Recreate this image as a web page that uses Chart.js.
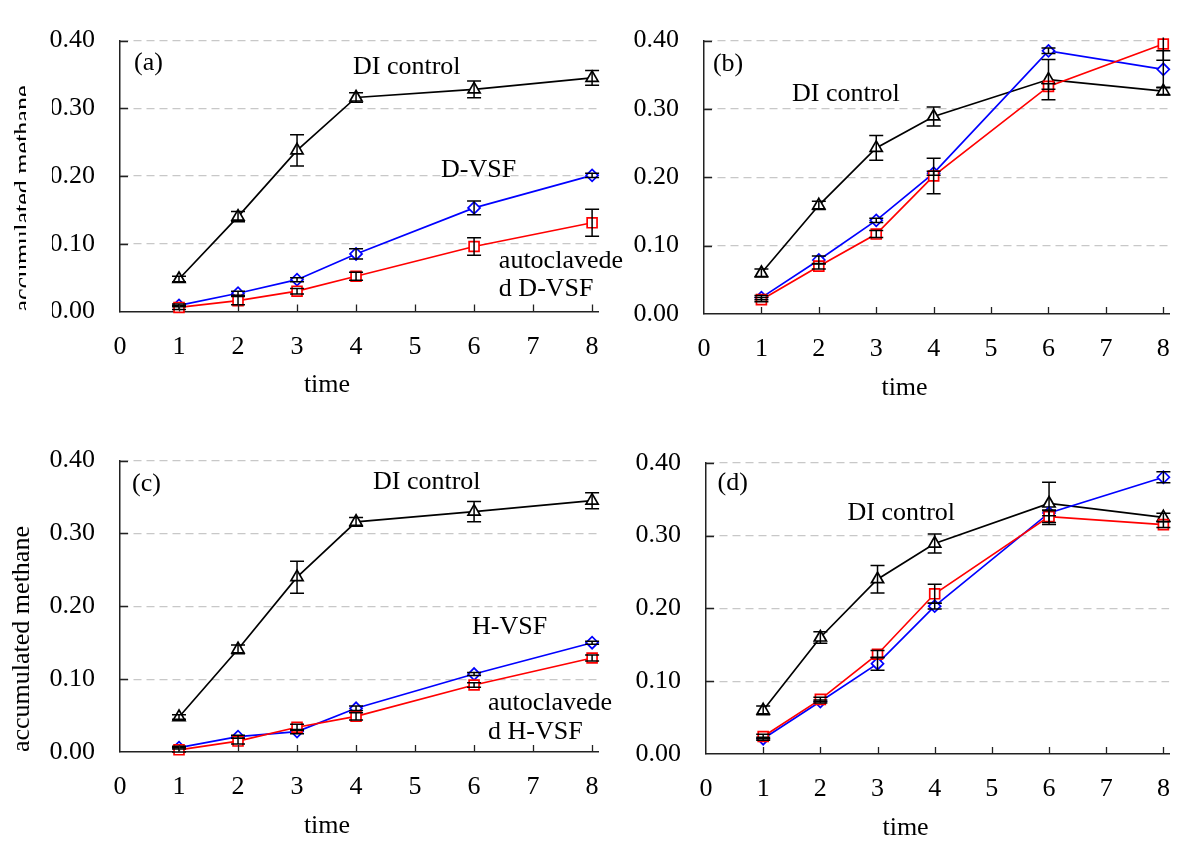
<!DOCTYPE html>
<html>
<head>
<meta charset="utf-8">
<script src="https://cdn.jsdelivr.net/npm/chart.js@4.4.1/dist/chart.umd.min.js"></script>
<style>
  html, body { margin: 0; padding: 0; background: #fff; }
  #wrap { position: relative; width: 1190px; height: 842px; overflow: hidden; background: #fff; }
  canvas { position: absolute; }
  #maskA { position: absolute; left: 26px; top: 80px; width: 26px; height: 245px; background: #fff; }
</style>
</head>
<body>
<div id="wrap">
  <canvas id="chartA" width="640" height="420" style="left:0;top:0"></canvas>
  <div id="maskA"></div>
  <canvas id="chartB" width="590" height="420" style="left:600px;top:0"></canvas>
  <canvas id="chartC" width="640" height="422" style="left:0;top:420px"></canvas>
  <canvas id="chartD" width="590" height="422" style="left:600px;top:420px"></canvas>
</div>
<script>
// sampling times and axis ticks
const times = [1, 2, 3, 4, 6, 8];
const xTicks = [0, 1, 2, 3, 4, 5, 6, 7, 8];
const yTicks = [0, 0.1, 0.2, 0.3, 0.4];

// (a) D-VSF
const aControl = [0.048, 0.140, 0.238, 0.316, 0.328, 0.345];
const aControlErr = [0.004, 0.0075, 0.023, 0.007, 0.0125, 0.011];
const aVSF = [0.009, 0.027, 0.047, 0.085, 0.153, 0.201];
const aVSFErr = [0.002, 0.003, 0.003, 0.0075, 0.010, 0.003];
const aAuto = [0.006, 0.016, 0.030, 0.052, 0.096, 0.131];
const aAutoErr = [0.003, 0.006, 0.004, 0.006, 0.013, 0.020];

// (b)
const bControl = [0.060, 0.159, 0.243, 0.289, 0.343, 0.326];
const bControlErr = [0.006, 0.006, 0.018, 0.014, 0.0295, 0.0056];
const bVSF = [0.024, 0.079, 0.137, 0.206, 0.385, 0.358];
const bVSFErr = [0.003, 0.006, 0.003, 0.003, 0.004, 0.027];
const bAuto = [0.021, 0.070, 0.117, 0.202, 0.333, 0.395];
const bAutoErr = [0.003, 0.004, 0.005, 0.026, 0.004, 0.0236];

// (c) H-VSF
const cControl = [0.048, 0.141, 0.240, 0.316, 0.330, 0.345];
const cControlErr = [0.003, 0.006, 0.022, 0.006, 0.014, 0.011];
const cVSF = [0.006, 0.021, 0.028, 0.060, 0.107, 0.150];
const cVSFErr = [0.002, 0.002, 0.003, 0.003, 0.002, 0.002];
const cAuto = [0.003, 0.015, 0.034, 0.049, 0.092, 0.129];
const cAutoErr = [0.003, 0.004, 0.004, 0.005, 0.003, 0.004];

// (d)
const dControl = [0.060, 0.160, 0.240, 0.289, 0.344, 0.325];
const dControlErr = [0.006, 0.008, 0.019, 0.013, 0.029, 0.0057];
const dVSF = [0.021, 0.072, 0.124, 0.203, 0.331, 0.380];
const dVSFErr = [0.002, 0.002, 0.009, 0.004, 0.004, 0.0075];
const dAuto = [0.024, 0.075, 0.137, 0.220, 0.326, 0.315];
const dAutoErr = [0.003, 0.003, 0.005, 0.013, 0.008, 0.004];

// text labels inside each panel: [text, x (time), y (value)] - left edge, vertical middle
const notesA = [['(a)', 0.237, 0.367], ['DI control', 3.948, 0.361], ['D-VSF', 5.44, 0.208],
                ['autoclavede', 6.42, 0.0744], ['d D-VSF', 6.42, 0.0327]];
const notesB = [['(b)', 0.155, 0.365], ['DI control', 1.534, 0.322]];
const notesC = [['(c)', 0.203, 0.368], ['DI control', 4.287, 0.3706], ['H-VSF', 5.965, 0.171],
                ['autoclavede', 6.236, 0.0669], ['d H-VSF', 6.236, 0.0268]];
const notesD = [['(d)', 0.203, 0.372], ['DI control', 2.474, 0.331]];

const serif = '"Liberation Serif", "Times New Roman", serif';
const axisColor = '#222';
Chart.defaults.font.family = serif;
Chart.defaults.color = '#000';

// error bars, inward tick marks, panel text
const extras = {
  id: 'extras',
  afterDatasetsDraw(chart) {
    const { ctx, chartArea, scales: { y } } = chart;
    ctx.save();
    ctx.beginPath();
    ctx.rect(chartArea.left - 20, chartArea.top - 3, chartArea.width + 40, chartArea.height + 6);
    ctx.clip();
    ctx.strokeStyle = '#000';
    ctx.lineWidth = 1.5;
    chart.data.datasets.forEach((ds, i) => {
      const meta = chart.getDatasetMeta(i);
      meta.data.forEach((pt, j) => {
        const v = ds.data[j].y, e = ds.errors[j];
        const y1 = y.getPixelForValue(v + e), y2 = y.getPixelForValue(v - e);
        ctx.beginPath();
        ctx.moveTo(pt.x, y1); ctx.lineTo(pt.x, y2);
        ctx.moveTo(pt.x - 7, y1); ctx.lineTo(pt.x + 7, y1);
        ctx.moveTo(pt.x - 7, y2); ctx.lineTo(pt.x + 7, y2);
        ctx.stroke();
      });
    });
    ctx.restore();
  },
  afterDraw(chart) {
    const { ctx, chartArea, scales: { x, y } } = chart;
    const notes = chart.options.plugins.extras.notes;
    ctx.save();
    ctx.strokeStyle = axisColor;
    ctx.lineWidth = 1.3;
    ctx.beginPath();
    xTicks.forEach(v => {
      if (v === 0) return;
      const px = Math.round(x.getPixelForValue(v)) + 0.5;
      ctx.moveTo(px, chartArea.bottom);
      ctx.lineTo(px, chartArea.bottom - 7);
    });
    yTicks.forEach(v => {
      if (v === 0) return;
      const py = Math.round(y.getPixelForValue(v)) + 0.5;
      ctx.moveTo(chartArea.left, py);
      ctx.lineTo(chartArea.left + 8, py);
    });
    ctx.stroke();

    ctx.fillStyle = '#000';
    ctx.font = '26px ' + serif;
    ctx.textBaseline = 'middle';
    ctx.textAlign = 'left';
    notes.forEach(([t, nx, ny]) => {
      ctx.fillText(t, x.getPixelForValue(nx), y.getPixelForValue(ny));
    });
    ctx.textAlign = 'center';
    ctx.fillText('time', (chartArea.left + chartArea.right) / 2 - 32, chartArea.bottom + 74);
    ctx.restore();
  }
};

function series(vals, errs, color, style, radius) {
  return {
    data: times.map((t, i) => ({ x: t, y: vals[i] })),
    errors: errs,
    borderColor: color,
    borderWidth: 1.7,
    pointStyle: style,
    pointRadius: radius,
    pointBorderColor: color,
    pointBackgroundColor: '#fff',
    pointBorderWidth: 1.7,
    tension: 0,
    clip: false
  };
}

function makePanel(id, control, controlErr, vsf, vsfErr, auto, autoErr, notes, box) {
  new Chart(document.getElementById(id), {
    type: 'line',
    data: {
      datasets: [
        series(auto, autoErr, '#ff0000', 'rect', 7),
        series(vsf, vsfErr, '#0000ff', 'rectRot', 6),
        series(control, controlErr, '#000000', 'triangle', 7)
      ]
    },
    options: {
      responsive: false,
      animation: false,
      events: [],
      layout: { padding: { top: box.top, right: box.right, left: 0, bottom: 0 } },
      plugins: { legend: { display: false }, tooltip: { enabled: false }, extras: { notes } },
      scales: {
        x: {
          type: 'linear', min: 0, max: 8.1,
          afterBuildTicks: s => { s.ticks = xTicks.map(v => ({ value: v })); },
          afterFit: s => { s.height = box.xHeight; },
          ticks: { padding: 20, color: '#000', font: { size: 26 }, maxRotation: 0, autoSkip: false },
          grid: { display: false, drawTicks: false },
          border: { display: true, color: axisColor, width: 1.5 }
        },
        y: {
          min: 0, max: 0.4,
          afterBuildTicks: s => { s.ticks = yTicks.map(v => ({ value: v })); },
          afterFit: s => { s.width = box.yWidth; },
          ticks: { padding: 25, color: '#000', font: { size: 26 }, callback: v => v.toFixed(2) },
          grid: {
            drawTicks: false, lineWidth: 1.2,
            color: c => (c.tick && c.tick.value === 0) ? 'rgba(0,0,0,0)' : '#c8c8c8'
          },
          border: { display: true, color: axisColor, width: 1.5, dash: [8, 5] },
          title: {
            display: box.yTitle, text: 'accumulated methane', align: 'start', color: '#000',
            font: { size: 26 }, padding: { top: box.titlePad || 0, bottom: 0 }
          }
        }
      }
    },
    plugins: [extras]
  });
}

makePanel('chartA', aControl, aControlErr, aVSF, aVSFErr, aAuto, aAutoErr, notesA,
  { top: 24, right: 42, yWidth: 120, xHeight: 108.5, yTitle: true, titlePad: 8.4 });
makePanel('chartB', bControl, bControlErr, bVSF, bVSFErr, bAuto, bAutoErr, notesB,
  { top: 16, right: 16, yWidth: 104, xHeight: 106, yTitle: false });
makePanel('chartC', cControl, cControlErr, cVSF, cVSFErr, cAuto, cAutoErr, notesC,
  { top: 33, right: 42, yWidth: 120, xHeight: 90, yTitle: true, titlePad: 6.4 });
makePanel('chartD', dControl, dControlErr, dVSF, dVSFErr, dAuto, dAutoErr, notesD,
  { top: 42.7, right: 6, yWidth: 106, xHeight: 88, yTitle: false });
</script>
</body>
</html>
